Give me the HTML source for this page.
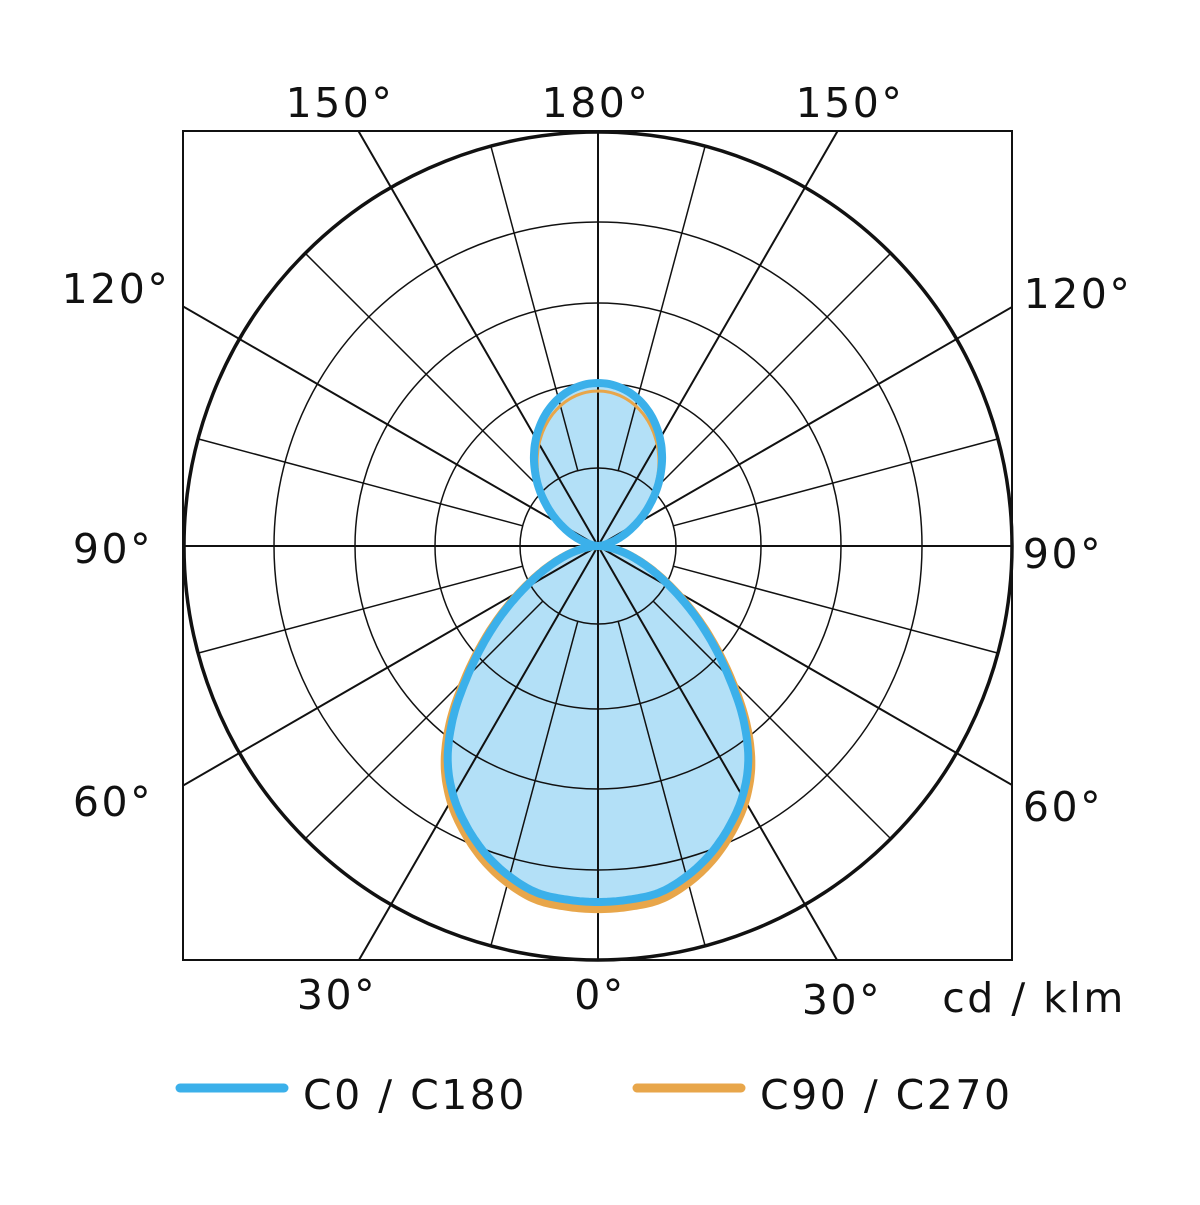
<!DOCTYPE html>
<html><head><meta charset="utf-8"><style>
html,body{margin:0;padding:0;background:#fff}
svg text{font-family:"DejaVu Sans","Liberation Sans",sans-serif;font-size:41px;fill:#111;letter-spacing:2.5px}
</style></head><body>
<svg id="s" width="1200" height="1200" viewBox="0 0 1200 1200" xmlns="http://www.w3.org/2000/svg">
<defs><clipPath id="box"><rect x="183" y="131" width="829" height="829"/></clipPath></defs>
<rect width="1200" height="1200" fill="#fff"/>
<path id="fillLow" fill="#b3e0f7"/>
<path id="fillUp" fill="#b3e0f7"/>
<g id="grid" stroke="#111" fill="none" stroke-width="1.5" clip-path="url(#box)"></g>
<circle cx="598" cy="546" r="414" fill="none" stroke="#111" stroke-width="3.5"/>
<rect x="183" y="131" width="829" height="829" fill="none" stroke="#111" stroke-width="2"/>
<path id="orLow" fill="none" stroke="#e8a64a" stroke-width="8"/>
<path id="orUp" fill="none" stroke="#e8a64a" stroke-width="3"/>
<path id="blLow" fill="none" stroke="#3bb0ea" stroke-width="8"/>
<path id="blUp" fill="none" stroke="#3bb0ea" stroke-width="8"/>
<text x="340" y="117" text-anchor="middle">150°</text>
<text x="596" y="117" text-anchor="middle">180°</text>
<text x="850" y="117" text-anchor="middle">150°</text>
<text x="116" y="303" text-anchor="middle">120°</text>
<text x="1078" y="308" text-anchor="middle">120°</text>
<text x="113" y="563" text-anchor="middle">90°</text>
<text x="1063" y="568" text-anchor="middle">90°</text>
<text x="113" y="816" text-anchor="middle">60°</text>
<text x="1063" y="821" text-anchor="middle">60°</text>
<text x="337" y="1009" text-anchor="middle">30°</text>
<text x="600" y="1009" text-anchor="middle">0°</text>
<text x="842" y="1014" text-anchor="middle">30°</text>
<text x="1034" y="1012" text-anchor="middle">cd / klm</text>
<line x1="180" y1="1088" x2="284" y2="1088" stroke="#3bb0ea" stroke-width="9" stroke-linecap="round"/>
<text x="303" y="1109">C0 / C180</text>
<line x1="637" y1="1088" x2="741" y2="1088" stroke="#e8a64a" stroke-width="9" stroke-linecap="round"/>
<text x="760" y="1109">C90 / C270</text>
</svg>
<script>
var cx=598,cy=546,ns="http://www.w3.org/2000/svg",g=document.getElementById('grid');
[78,163,243,324].forEach(function(r){var c=document.createElementNS(ns,'circle');c.setAttribute('cx',cx);c.setAttribute('cy',cy);c.setAttribute('r',r);g.appendChild(c);});
for(var a=0;a<360;a+=15){var t=a*Math.PI/180,r0,r1;if(a%30==0){r0=0;r1=700}else{r0=78;r1=414}
var l=document.createElementNS(ns,'line');l.setAttribute('x1',cx+r0*Math.sin(t));l.setAttribute('y1',cy+r0*Math.cos(t));l.setAttribute('x2',cx+r1*Math.sin(t));l.setAttribute('y2',cy+r1*Math.cos(t));if(a%30==0)l.setAttribute('stroke-width','2');g.appendChild(l);}
var tb=[356,355,352,342,328,310,289,262,226,185,148,115,86,63,44,29,16,7,0];
function val(i){if(i<0)return tb[-i];if(i>18)return -tb[36-i];return tb[i];}
function rl(d){d=Math.abs(d);var u=d/5,i=Math.min(17,Math.floor(u)),f=u-i;
var p0=val(i-1),p1=val(i),p2=val(i+1),p3=val(i+2);
return Math.max(0,0.5*((2*p1)+(-p0+p2)*f+(2*p0-5*p1+4*p2-p3)*f*f+(-p0+3*p1-3*p2+p3)*f*f*f));}
function low(k){var p='';for(var d=-90;d<=90;d+=0.5){var r=rl(d)*k,t=d*Math.PI/180;p+=(d==-90?'M':'L')+(cx-r*Math.sin(t)).toFixed(1)+' '+(cy+r*Math.cos(t)).toFixed(1);}return p+'Z';}
function up(R,e){var p='';for(var d=-90;d<=90;d+=1){var t=d*Math.PI/180,r=R*Math.pow(Math.cos(t),e);p+=(d==-90?'M':'L')+(cx+r*Math.sin(t)).toFixed(1)+' '+(cy-r*Math.cos(t)).toFixed(1);}return p+'Z';}
document.getElementById('fillLow').setAttribute('d',low(1.02));
document.getElementById('orLow').setAttribute('d',low(1.02));
document.getElementById('blLow').setAttribute('d',low(1));
document.getElementById('fillUp').setAttribute('d',up(163,1.9));
document.getElementById('blUp').setAttribute('d',up(163,1.9));
document.getElementById('orUp').setAttribute('d',up(155,1.9));
</script>
</body></html>
